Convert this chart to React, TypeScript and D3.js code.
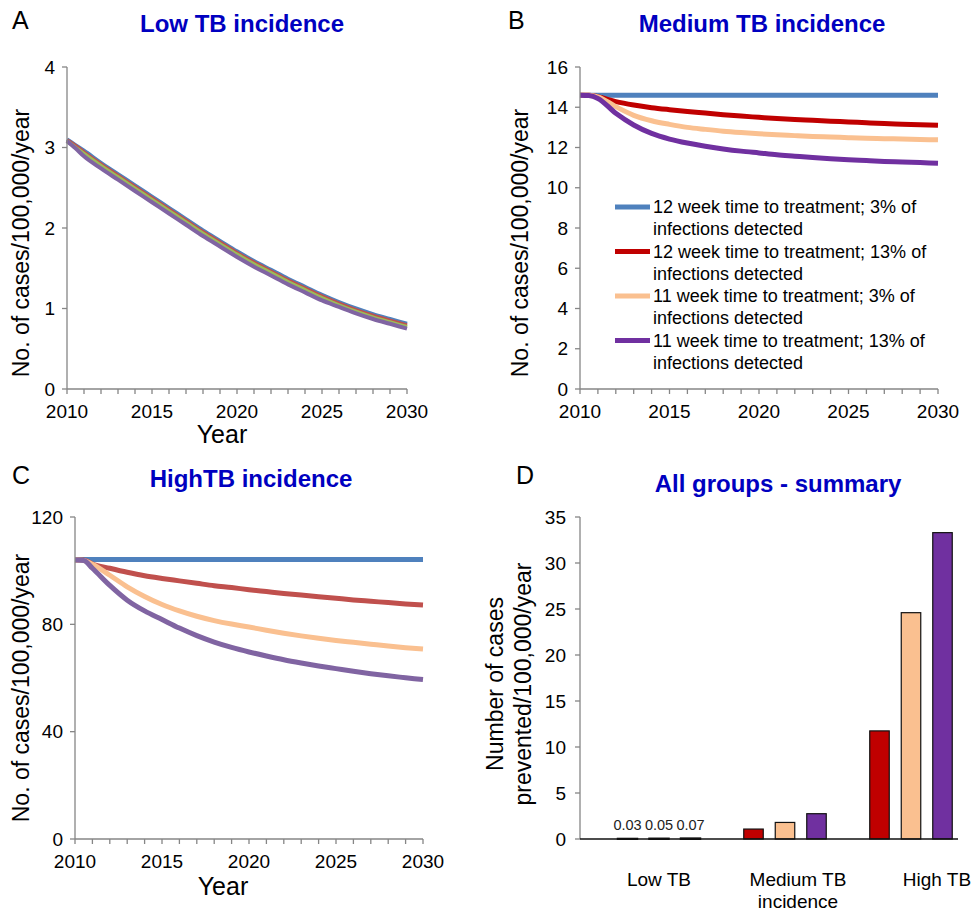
import React from 'react';
import * as d3 from 'd3';

// time points (model output is yearly, plus the half-year where curves start to split)
const years = [2010, 2010.5, 2011, 2012, 2013, 2014, 2015, 2016, 2017, 2018, 2019, 2020,
  2021, 2022, 2023, 2024, 2025, 2026, 2027, 2028, 2029, 2030];
const yearLabels = [2010, 2015, 2020, 2025, 2030];
const yearTicks = d3.range(2010, 2031);

// A - low incidence
const lowBlue = [3.10, 3.03, 2.96, 2.81, 2.67, 2.53, 2.39, 2.25, 2.11, 1.97, 1.84, 1.71, 1.59, 1.48, 1.37, 1.27, 1.17, 1.08, 1.00, 0.93, 0.87, 0.81];
const lowRed = [3.09, 3.02, 2.94, 2.79, 2.65, 2.51, 2.37, 2.23, 2.09, 1.95, 1.82, 1.69, 1.57, 1.46, 1.35, 1.25, 1.15, 1.06, 0.98, 0.91, 0.85, 0.79];
const lowGreen = [3.08, 3.00, 2.92, 2.77, 2.63, 2.49, 2.35, 2.21, 2.07, 1.93, 1.80, 1.67, 1.55, 1.44, 1.33, 1.23, 1.13, 1.04, 0.96, 0.89, 0.83, 0.77];
const lowPurple = [3.08, 2.99, 2.89, 2.74, 2.60, 2.46, 2.32, 2.18, 2.04, 1.90, 1.77, 1.64, 1.52, 1.41, 1.30, 1.20, 1.10, 1.02, 0.94, 0.87, 0.81, 0.75];

// B - medium incidence
const medBlue = [14.6, 14.6, 14.6, 14.6, 14.6, 14.6, 14.6, 14.6, 14.6, 14.6, 14.6, 14.6, 14.6, 14.6, 14.6, 14.6, 14.6, 14.6, 14.6, 14.6, 14.6, 14.6];
const medRed = [14.6, 14.6, 14.52, 14.28, 14.11, 13.98, 13.88, 13.79, 13.71, 13.63, 13.56, 13.5, 13.44, 13.39, 13.35, 13.31, 13.27, 13.23, 13.19, 13.16, 13.13, 13.1];
const medOrange = [14.6, 14.6, 14.52, 14.03, 13.6, 13.33, 13.15, 13.0, 12.9, 12.81, 12.74, 12.68, 12.63, 12.59, 12.55, 12.52, 12.49, 12.46, 12.44, 12.42, 12.4, 12.38];
const medPurple = [14.6, 14.58, 14.44, 13.7, 13.12, 12.7, 12.42, 12.22, 12.06, 11.93, 11.82, 11.73, 11.64, 11.57, 11.5, 11.44, 11.39, 11.35, 11.31, 11.28, 11.25, 11.22];

// C - high incidence
const highBlue = [104.2, 104.2, 104.2, 104.2, 104.2, 104.2, 104.2, 104.2, 104.2, 104.2, 104.2, 104.2, 104.2, 104.2, 104.2, 104.2, 104.2, 104.2, 104.2, 104.2, 104.2, 104.2];
const highRed = [104, 104, 102.5, 100.9, 99.4, 98.1, 97.1, 96.2, 95.3, 94.4, 93.7, 92.9, 92.2, 91.5, 90.9, 90.3, 89.7, 89.1, 88.6, 88.1, 87.6, 87.2];
const highOrange = [104, 103.8, 102.4, 98.3, 94.0, 90.4, 87.4, 85.0, 83.0, 81.4, 80.1, 79.0, 77.8, 76.7, 75.7, 74.8, 74.0, 73.3, 72.6, 71.9, 71.3, 70.8];
const highPurple = [104, 103.8, 100.9, 94.5, 89.0, 85.0, 81.8, 78.6, 75.8, 73.4, 71.4, 69.7, 68.2, 66.8, 65.6, 64.5, 63.5, 62.5, 61.6, 60.8, 60.1, 59.4];

const legendLabels = [
  ['12 week time to treatment; 3% of', 'infections detected'],
  ['12 week time to treatment; 13% of', 'infections detected'],
  ['11 week time to treatment; 3% of', 'infections detected'],
  ['11 week time to treatment; 13% of', 'infections detected'],
];

// D - summary: cases prevented
const groups = ['Low TB', 'Medium TB incidence', 'High TB'];
const groupLabelLines = [['Low TB'], ['Medium TB', 'incidence'], ['High TB']];
const preventedRed = [0.03, 1.08, 11.75];
const preventedOrange = [0.05, 1.8, 24.6];
const preventedPurple = [0.07, 2.75, 33.3];
const lowValueLabels = ['0.03', '0.05', '0.07'];

const FONT = "'Liberation Sans', Arial, sans-serif";
const AXIS = '#868686';
const TITLE = '#0000c0';

type LineSpec = { values: number[]; color: string; width: number };

function LinePanel(props: {
  left: number; right: number; top: number; bottom: number;
  yTicks: number[]; lines: LineSpec[];
}) {
  const { left, right, top, bottom, yTicks, lines } = props;
  const x = d3.scaleLinear().domain([2010, 2030]).range([left, right]);
  const y = d3.scaleLinear().domain([0, yTicks[yTicks.length - 1]]).range([bottom, top]);
  const line = d3.line<number>()
    .x((_, i) => x(years[i]))
    .y(d => y(d))
    .curve(d3.curveMonotoneX);

  return (
    <g>
      {lines.map((l, i) => (
        <path key={i} d={line(l.values) || ''} fill="none" stroke={l.color} strokeWidth={l.width} />
      ))}
      <line x1={left} x2={left} y1={top} y2={bottom} stroke={AXIS} strokeWidth={1.3} />
      <line x1={left} x2={right} y1={bottom} y2={bottom} stroke={AXIS} strokeWidth={1.3} />
      {yTicks.map(t => (
        <g key={t}>
          <line x1={left - 5} x2={left} y1={y(t)} y2={y(t)} stroke={AXIS} strokeWidth={1.3} />
          <text x={left - 12} y={y(t)} dy="0.35em" textAnchor="end" fontSize={19}>{t}</text>
        </g>
      ))}
      {yearTicks.map(t => (
        <line key={t} x1={x(t)} x2={x(t)} y1={bottom} y2={bottom + 5} stroke={AXIS} strokeWidth={1.3} />
      ))}
      {yearLabels.map(t => (
        <text key={t} x={x(t)} y={bottom + 29} textAnchor="middle" fontSize={19}>{t}</text>
      ))}
    </g>
  );
}

function YLabel({ x, y, lines }: { x: number; y: number; lines: string[] }) {
  return (
    <text transform={`translate(${x},${y}) rotate(-90)`} textAnchor="middle" fontSize={23}>
      {lines.map((s, i) => (
        <tspan key={i} x={0} dy={i === 0 ? 0 : 28}>{s}</tspan>
      ))}
    </text>
  );
}

function SummaryPanel() {
  const left = 580, right = 958, top = 517, bottom = 839;
  const y = d3.scaleLinear().domain([0, 35]).range([bottom, top]);
  const xGroup = d3.scaleBand<string>().domain(groups).range([left + 16, right + 16]);
  const xBar = d3.scaleBand<number>().domain([0, 1, 2]).range([21.75, 104.25]).paddingInner(0.381);
  const colors = ['#c00000', '#fac090', '#7030a0'];
  const series = [preventedRed, preventedOrange, preventedPurple];
  const labelShift = [0, 13, 26];

  return (
    <g>
      <line x1={left} x2={left} y1={top} y2={bottom} stroke={AXIS} strokeWidth={1.3} />
      {d3.range(0, 36, 5).map(t => (
        <g key={t}>
          <line x1={left - 5} x2={left} y1={y(t)} y2={y(t)} stroke={AXIS} strokeWidth={1.3} />
          <text x={left - 14} y={y(t)} dy="0.35em" textAnchor="end" fontSize={19}>{t}</text>
        </g>
      ))}
      {groups.map((g, gi) => (
        <g key={g}>
          {series.map((s, si) => {
            const bx = (xGroup(g) as number) + (xBar(si) as number);
            const h = Math.max(bottom - y(s[gi]), 0);
            return (
              <rect key={si} x={bx} y={y(s[gi])} width={xBar.bandwidth()} height={h}
                fill={colors[si]} stroke="#111" strokeWidth={gi === 0 ? 2 : 1.2} />
            );
          })}
        </g>
      ))}
      {lowValueLabels.map((s, si) => (
        <text key={s} x={(xGroup(groups[0]) as number) + (xBar(si) as number) + xBar.bandwidth() / 2}
          y={bottom - 9} textAnchor="middle" fontSize={14.5} fill="#222">{s}</text>
      ))}
      <line x1={left} x2={right} y1={bottom} y2={bottom} stroke="#111" strokeWidth={1.3} />
      {groups.map((g, gi) => (
        <text key={g} x={(xGroup(g) as number) + xGroup.bandwidth() / 2 + labelShift[gi]} y={886}
          textAnchor="middle" fontSize={19}>
          {groupLabelLines[gi].map((s, i) => (
            <tspan key={i} x={(xGroup(g) as number) + xGroup.bandwidth() / 2 + labelShift[gi]} dy={i === 0 ? 0 : 22}>{s}</tspan>
          ))}
        </text>
      ))}
    </g>
  );
}

export default function App() {
  const excel = ['#4f81bd', '#c0504d', '#9bbb59', '#8064a2'];
  const bright = ['#4f81bd', '#c00000', '#fac090', '#7030a0'];
  const muted = ['#4f81bd', '#c0504d', '#fac090', '#8064a2'];

  return (
    <div style={{ position: 'absolute', left: 0, top: 0 }}>
      <svg width={973} height={911} fontFamily={FONT} style={{ display: 'block', background: '#fff' }}>
        {/* A */}
        <text x={12} y={29} fontSize={25}>A</text>
        <text x={242} y={32} textAnchor="middle" fontSize={24} fontWeight="bold" fill={TITLE}>Low TB incidence</text>
        <LinePanel left={67} right={407} top={67} bottom={389} yTicks={[0, 1, 2, 3, 4]}
          lines={[lowBlue, lowRed, lowGreen, lowPurple].map((v, i) => ({ values: v, color: excel[i], width: 4 }))} />
        <YLabel x={29} y={243} lines={['No. of cases/100,000/year']} />
        <text x={222} y={443} textAnchor="middle" fontSize={25}>Year</text>

        {/* B */}
        <text x={508} y={29} fontSize={25}>B</text>
        <text x={762} y={32} textAnchor="middle" fontSize={24} fontWeight="bold" fill={TITLE}>Medium TB incidence</text>
        <LinePanel left={580} right={938} top={67} bottom={389} yTicks={[0, 2, 4, 6, 8, 10, 12, 14, 16]}
          lines={[medBlue, medRed, medOrange, medPurple].map((v, i) => ({ values: v, color: bright[i], width: 5 }))} />
        <YLabel x={528} y={243} lines={['No. of cases/100,000/year']} />
        {legendLabels.map((lbl, i) => (
          <g key={i}>
            <line x1={615} x2={650} y1={207 + i * 44.5} y2={207 + i * 44.5} stroke={bright[i]} strokeWidth={5} />
            <text x={653} y={213 + i * 44.5} fontSize={18}>
              <tspan x={653}>{lbl[0]}</tspan>
              <tspan x={653} dy={22}>{lbl[1]}</tspan>
            </text>
          </g>
        ))}

        {/* C */}
        <text x={12} y={484} fontSize={25}>C</text>
        <text x={251} y={487} textAnchor="middle" fontSize={24} fontWeight="bold" fill={TITLE}>HighTB incidence</text>
        <LinePanel left={75} right={423} top={517} bottom={839} yTicks={[0, 40, 80, 120]}
          lines={[highBlue, highRed, highOrange, highPurple].map((v, i) => ({ values: v, color: muted[i], width: 5 }))} />
        <YLabel x={29} y={688} lines={['No. of cases/100,000/year']} />
        <text x={223} y={895} textAnchor="middle" fontSize={25}>Year</text>

        {/* D */}
        <text x={516} y={484} fontSize={25}>D</text>
        <text x={778} y={492} textAnchor="middle" fontSize={24} fontWeight="bold" fill={TITLE}>All groups - summary</text>
        <YLabel x={503} y={684} lines={['Number of cases', 'prevented/100,000/year']} />
        <SummaryPanel />
      </svg>
    </div>
  );
}
